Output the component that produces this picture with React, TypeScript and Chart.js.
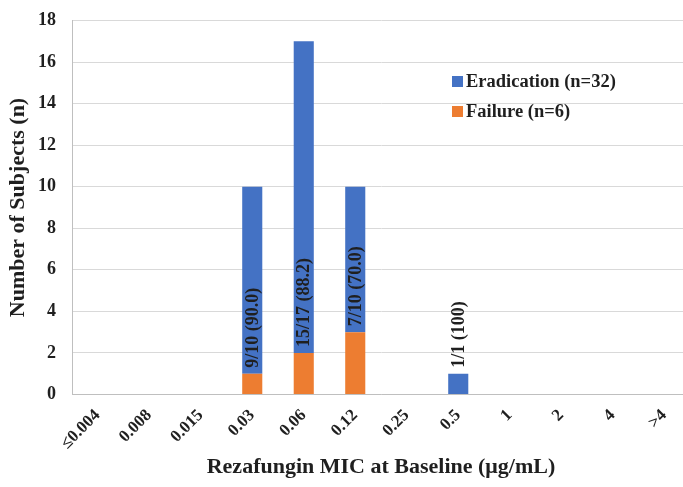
import React, { useEffect, useRef } from "react";
import { Chart, registerables } from "chart.js";

Chart.register(...registerables);

const categories = ["≤0.004", "0.008", "0.015", "0.03", "0.06", "0.12", "0.25", "0.5", "1", "2", "4", ">4"];
const eradication = [0, 0, 0, 9, 15, 7, 0, 1, 0, 0, 0, 0];
const failure = [0, 0, 0, 1, 2, 3, 0, 0, 0, 0, 0, 0];
const barLabels = ["", "", "", "9/10 (90.0)", "15/17 (88.2)", "7/10 (70.0)", "", "1/1 (100)", "", "", "", ""];
const legendLabels = ["Eradication (n=32)", "Failure (n=6)"];
const yMax = 18;
const yStep = 2;

const BLUE = "#4472C4";
const ORANGE = "#ED7D31";
const FONT = "'Liberation Serif', 'Times New Roman', serif";
const TEXT = "#1f1f1f";

const labelPlugin = {
  id: "barLabels",
  afterDatasetsDraw(chart: any) {
    const ctx = chart.ctx;
    const meta = chart.getDatasetMeta(1);
    ctx.save();
    ctx.font = `bold 18px ${FONT}`;
    ctx.fillStyle = TEXT;
    ctx.textBaseline = "middle";
    ctx.textAlign = "left";
    meta.data.forEach((bar: any, i: number) => {
      const text = barLabels[i];
      if (!text) return;
      const w = ctx.measureText(text).width;
      const segH = bar.base - bar.y;
      let startY: number;
      if (w + 10 < segH) startY = bar.base - 6;
      else startY = bar.y - 6;
      ctx.save();
      ctx.translate(bar.x, startY);
      ctx.rotate(-Math.PI / 2);
      ctx.fillText(text, 0, 1);
      ctx.restore();
    });
    ctx.restore();
  },
};

const legendPlugin = {
  id: "customLegend",
  afterDraw(chart: any) {
    const ctx = chart.ctx;
    const colors = [BLUE, ORANGE];
    const x0 = 452;
    const ys = [81, 111];
    ctx.save();
    ctx.font = `bold 18.5px ${FONT}`;
    ctx.textBaseline = "middle";
    ctx.textAlign = "left";
    legendLabels.forEach((t, i) => {
      ctx.fillStyle = colors[i];
      ctx.fillRect(x0, ys[i] - 5, 11, 11);
      ctx.fillStyle = TEXT;
      ctx.fillText(t, x0 + 14, ys[i] + 1);
    });
    ctx.restore();
  },
};

export default function App() {
  const ref = useRef<HTMLCanvasElement | null>(null);
  useEffect(() => {
    if (!ref.current) return;
    const chart = new Chart(ref.current, {
      type: "bar",
      data: {
        labels: categories,
        datasets: [
          { label: legendLabels[1], data: failure, backgroundColor: ORANGE, borderWidth: 0 },
          { label: legendLabels[0], data: eradication, backgroundColor: BLUE, borderWidth: 0 },
        ],
      },
      options: {
        animation: false,
        responsive: false,
        maintainAspectRatio: false,
        devicePixelRatio: 1,
        layout: { padding: { top: 20.5, right: 10, left: 0, bottom: 0 } },
        datasets: { bar: { barPercentage: 0.39, categoryPercentage: 1 } },
        plugins: { legend: { display: false }, tooltip: { enabled: false } },
        scales: {
          x: {
            stacked: true,
            grid: { display: false, drawTicks: false },
            border: { display: true, color: "#bfbfbf", width: 1 },
            ticks: {
              autoSkip: false,
              maxRotation: 45,
              minRotation: 45,
              padding: 11,
              color: TEXT,
              font: { family: FONT, size: 17, weight: "bold" },
            },
            title: {
              display: true,
              text: "Rezafungin MIC at Baseline (μg/mL)",
              color: TEXT,
              font: { family: FONT, size: 22, weight: "bold" },
              padding: { top: 0, bottom: 6 },
            },
            afterFit(scale: any) {
              scale.height = 92.5;
              scale.paddingLeft = 0;
              scale.paddingRight = 0;
            },
          },
          y: {
            stacked: true,
            min: 0,
            max: yMax,
            grid: { color: "#d9d9d9", drawTicks: false },
            border: { display: true, color: "#bfbfbf", width: 1 },
            ticks: {
              stepSize: yStep,
              padding: 16,
              color: TEXT,
              font: { family: FONT, size: 18, weight: "bold" },
            },
            title: {
              display: true,
              text: "Number of Subjects (n)",
              color: TEXT,
              font: { family: FONT, size: 22, weight: "bold" },
              padding: { top: 5, bottom: 0 },
            },
            afterFit(scale: any) {
              scale.width = 72;
              scale.paddingTop = 0;
              scale.paddingBottom = 0;
            },
          },
        },
      },
      plugins: [labelPlugin, legendPlugin],
    });
    return () => chart.destroy();
  }, []);
  return (
    <div style={{ position: "absolute", left: 0, top: 0, width: 683, height: 487, overflow: "hidden", background: "#fff" }}>
      <canvas ref={ref} width={700} height={487} style={{ display: "block" }} />
    </div>
  );
}
